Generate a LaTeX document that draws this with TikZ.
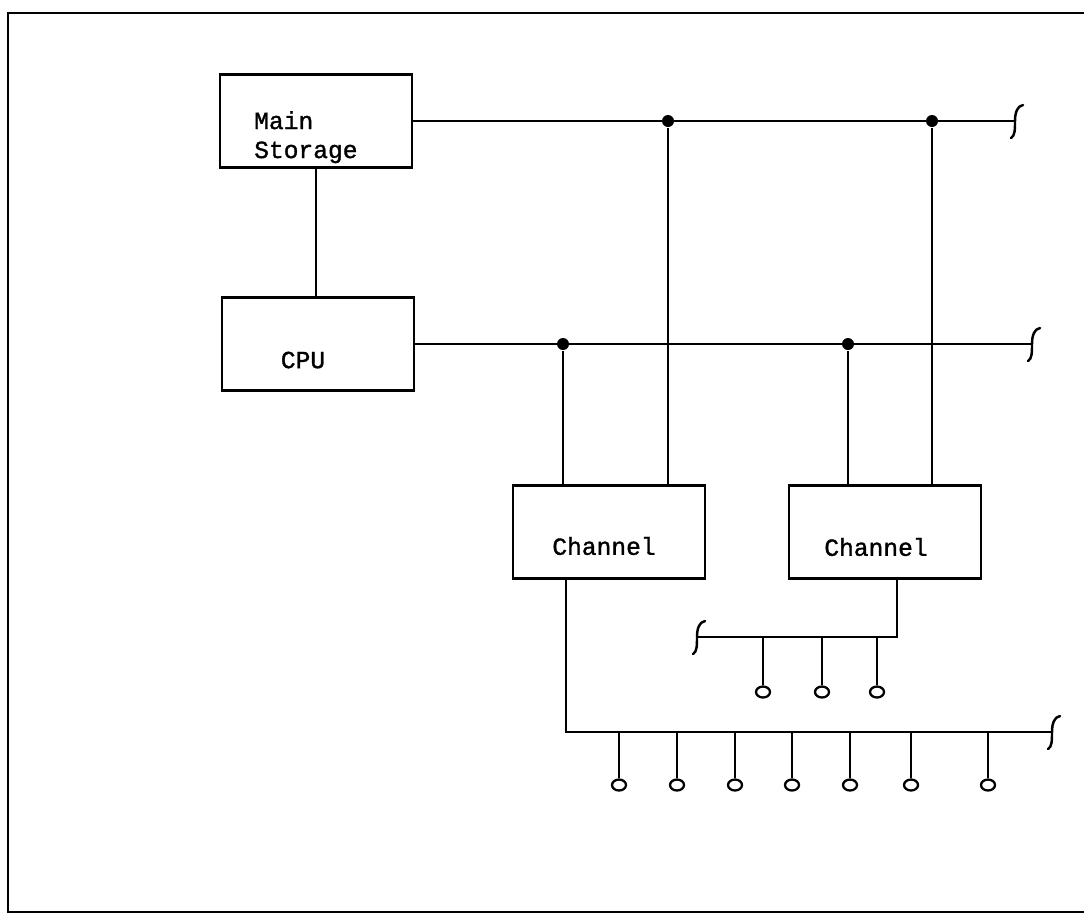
\documentclass[tikz,border=0pt]{standalone}
\usepackage{fontspec}
\newfontfamily\typew[FakeBold=1.3]{Liberation Mono}
\usetikzlibrary{shapes.geometric}

\tikzset{
  unit/.style={draw, minimum width=3.85cm, minimum height=1.86cm, inner sep=0pt},
  lbl/.style={font=\typew\fontsize{14}{16.5}\selectfont, align=left, inner sep=0pt},
  junc/.style={circle, fill, inner sep=0pt, minimum size=0.24cm},
  dev/.style={ellipse, draw, line width=1.3pt, inner sep=0pt, minimum width=0.28cm, minimum height=0.22cm},
  busend/.pic={\draw[line cap=round] (8,-16) .. controls (2,-15) and (0,-8) .. (0,0) .. controls (0,8) and (0,15) .. (-4,17);}
}

\begin{document}
\begin{tikzpicture}[x=0.02cm, y=-0.02cm, line width=1.4pt]
  \useasboundingbox (0,0) rectangle (1084,914);
  % frame
  \draw[line width=1.6pt] (1084,13) -- (8,13) -- (8,912) -- (1084,912);

  % units
  \node[unit] (ms)  at (316,121) {};
  \node[unit] (cpu) at (318,344) {};
  \node[unit] (ch1) at (609,532) {};
  \node[unit] (ch2) at (885,532) {};
  \node[lbl, anchor=north west] (msT) at (253,110) {Main\\Storage};
  \node[lbl] (cpuT) at (303,360) {CPU};
  \node[lbl] (ch1T) at (604,546) {Channel};
  \node[lbl] (ch2T) at (876,547) {Channel};

  % bus ends
  \coordinate (endA) at (1015,121);
  \coordinate (endB) at (1032,344);
  \coordinate (endC) at (1052,732);
  \coordinate (endD) at (697,637);
  \coordinate (kC) at (566,732);
  \coordinate (kD) at (897,637);

  % junctions
  \node[junc] (jA1) at (668,121) {};
  \node[junc] (jA2) at (932,121) {};
  \node[junc] (jB1) at (563,344) {};
  \node[junc] (jB2) at (848,344) {};

  \draw (ms.south) -- (ms.south |- cpu.north);
  \draw (ms.east) -- (endA);
  \draw (cpu.east) -- (endB);
  \draw (jA1) -- (jA1 |- ch1.north);
  \draw (jB1) -- (jB1 |- ch1.north);
  \draw (jA2) -- (jA2 |- ch2.north);
  \draw (jB2) -- (jB2 |- ch2.north);
  \draw (ch1.south -| kC) -- (kC) -- (endC);
  \draw (ch2.south -| kD) -- (kD) -- (endD);

  \pic at (endA) {busend};
  \pic at (endB) {busend};
  \pic at (endC) {busend};
  \pic at (endD) {busend};

  % devices
  \foreach \x [count=\i] in {619,677,735,792,850,911,988} {
    \node[dev] (c\i) at (\x,785) {};
    \draw (c\i.north |- endC) -- (c\i.north);
  }
  \foreach \x [count=\i] in {763,822,877} {
    \node[dev] (d\i) at (\x,692) {};
    \draw (d\i.north |- endD) -- (d\i.north);
  }
\end{tikzpicture}
\end{document}
